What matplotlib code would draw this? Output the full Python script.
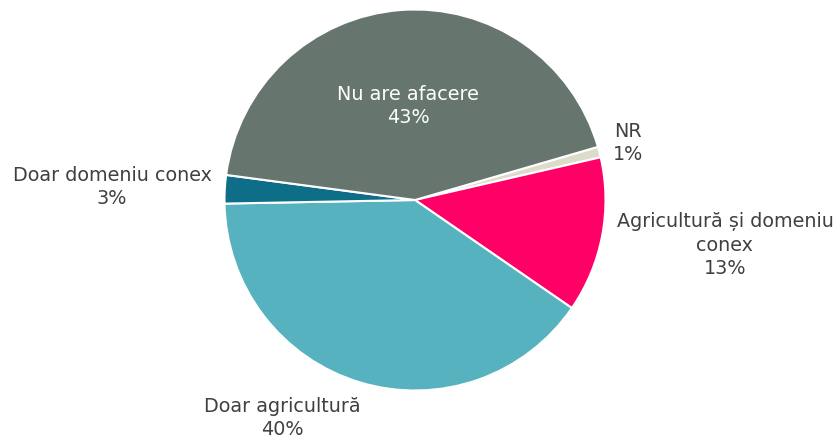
import matplotlib
matplotlib.use('Agg')
import matplotlib.pyplot as plt

labels = ['NR', 'Agricultură și domeniu\nconex', 'Doar agricultură', 'Doar domeniu conex', 'Nu are afacere']
values = [0.9, 13.2, 40.1, 2.4, 43.4]
pct_text = ['1%', '13%', '40%', '3%', '43%']
colors = ['#dcdccb', '#ff0066', '#56b2bf', '#0e6d87', '#66756e']

# where each label sits, in units of the pie radius
label_pos = [(1.127, 0.307), (1.640, -0.233), (-0.704, -1.148), (-1.603, 0.074), (-0.037, 0.503)]
label_color = ['#404040', '#404040', '#404040', '#404040', 'white']

fig = plt.figure(figsize=(8.38, 4.39), dpi=100)
ax = fig.add_axes([0, 0, 1, 1])

ax.pie(values, colors=colors, startangle=16.2, counterclock=False, radius=1.008,
       wedgeprops={'edgecolor': 'white', 'linewidth': 1.5})

for lab, pct, pos, c in zip(labels, pct_text, label_pos, label_color):
    ax.text(pos[0], pos[1], lab + '\n' + pct, ha='center', va='center',
            fontsize=13.8, color=c, family='DejaVu Sans', linespacing=1.3)

ax.set_xlim(-415 / 189, 423 / 189)
ax.set_ylim(-238 / 189, 201 / 189)
ax.set_aspect('equal')
ax.axis('off')

fig.savefig('out.png', dpi=100)
